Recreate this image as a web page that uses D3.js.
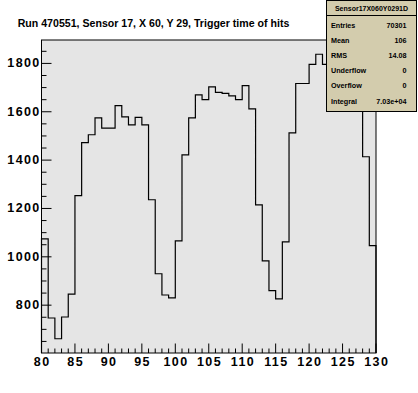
<!DOCTYPE html>
<html>
<head>
  <meta charset="utf-8">
  <title>Trigger time of hits</title>
  <script src="https://d3js.org/d3.v7.min.js"></script>
  <style>
    body { margin: 0; background: #fff; }
    svg text { font-family: "Liberation Sans", Arial, sans-serif; font-weight: bold; fill: #000; }
  </style>
</head>
<body>
  <svg width="418" height="393"></svg>
  <script>
    // histogram description
    var title = "Run 470551, Sensor 17, X 60, Y 29, Trigger time of hits";
    var xMin = 80, xMax = 130, binWidth = 1;
    // bin contents, bins 80..129
    var counts = [
      1074, 747, 661, 751, 846, 1253, 1472, 1505, 1575, 1532,
      1532, 1625, 1579, 1546, 1577, 1546, 1236, 930, 842, 830,
      1066, 1422, 1575, 1670, 1650, 1703, 1680, 1676, 1666, 1650,
      1708, 1612, 1215, 983, 860, 826, 1062, 1513, 1717, 1717,
      1796, 1838, 1796, 1820, 1810, 1790, 1770, 1690, 1414, 1046
    ];
    var xTickLabels = [80, 85, 90, 95, 100, 105, 110, 115, 120, 125, 130];
    var yTickLabels = [800, 1000, 1200, 1400, 1600, 1800];

    // stats box
    var statName = "Sensor17X060Y0291D";
    var statLabels = ["Entries", "Mean", "RMS", "Underflow", "Overflow", "Integral"];
    var statValues = ["70301", "106", "14.08", "0", "0", "7.03e+04"];

    var svg = d3.select("svg");
    var frame = { left: 41.5, right: 376, top: 40, bottom: 353 };

    var x = d3.scaleLinear().domain([xMin, xMax]).range([frame.left, frame.right]);
    // ROOT style: 5% margin above and below the data range
    var lo = d3.min(counts), hi = d3.max(counts), pad = 0.05 * (hi - lo);
    var y = d3.scaleLinear().domain([lo - pad, hi + pad]).range([frame.bottom, frame.top]);

    // frame
    svg.append("rect")
      .attr("x", frame.left).attr("y", frame.top)
      .attr("width", frame.right - frame.left).attr("height", frame.bottom - frame.top)
      .attr("fill", "#e5e5e5");

    // histogram as a step line
    var pts = counts.map(function (c, i) { return [xMin + i * binWidth, c]; });
    pts.unshift([xMin, y.domain()[0]]);
    pts.push([xMax, counts[counts.length - 1]]);
    pts.push([xMax, y.domain()[0]]);
    var line = d3.line()
      .x(function (d) { return x(d[0]); })
      .y(function (d) { return y(d[1]); })
      .curve(d3.curveStepAfter);
    svg.append("path")
      .datum(pts)
      .attr("d", line)
      .attr("fill", "none")
      .attr("stroke", "#000")
      .attr("stroke-width", 1.2);

    // axes, ticks pointing into the frame
    var ls = 1.4;
    var yMinor = d3.range(650, y.domain()[1], 50).filter(function (v) { return v % 200 !== 0; });
    var xMinor = d3.range(xMin, xMax + 1, 1).filter(function (v) { return v % 5 !== 0; });

    var gy = svg.append("g").attr("transform", "translate(" + frame.left + ",0)");
    gy.call(d3.axisLeft(y).tickValues(yTickLabels).tickFormat(d3.format("d"))
      .tickSizeInner(-10).tickSizeOuter(0).tickPadding(2.2).offset(0));
    gy.append("g").call(d3.axisLeft(y).tickValues(yMinor).tickFormat("")
      .tickSizeInner(-5).tickSizeOuter(0).offset(0));

    var gx = svg.append("g").attr("transform", "translate(0," + frame.bottom + ")");
    gx.call(d3.axisBottom(x).tickValues(xTickLabels).tickFormat(d3.format("d"))
      .tickSizeInner(-9.5).tickSizeOuter(0).tickPadding(4.3).offset(0));
    gx.append("g").call(d3.axisBottom(x).tickValues(xMinor).tickFormat("")
      .tickSizeInner(-4.5).tickSizeOuter(0).offset(0));

    svg.selectAll(".domain").remove();
    svg.selectAll(".tick line").attr("stroke", "#000").attr("stroke-width", 1);
    svg.selectAll(".tick text")
      .attr("fill", "#000")
      .style("font-family", "'Liberation Sans', Arial, sans-serif")
      .style("font-weight", "bold")
      .style("font-size", "12.5px")
      .style("letter-spacing", ls + "px");
    gy.selectAll(".tick text").attr("dx", ls);
    gx.selectAll(".tick text").attr("dx", ls / 2);

    // frame border
    svg.append("rect")
      .attr("x", frame.left).attr("y", frame.top)
      .attr("width", frame.right - frame.left).attr("height", frame.bottom - frame.top)
      .attr("fill", "none").attr("stroke", "#000").attr("stroke-width", 1);

    // title
    svg.append("text")
      .attr("x", 17.7).attr("y", 26.6)
      .style("font-size", "10.6px")
      .text(title);

    // stats box
    var box = svg.append("g").attr("transform", "translate(326.5,0.5)");
    box.append("rect")
      .attr("width", 90).attr("height", 111)
      .attr("fill", "#d3ccad").attr("stroke", "#000").attr("stroke-width", 1);
    box.append("line")
      .attr("x1", 0).attr("x2", 90).attr("y1", 15).attr("y2", 15)
      .attr("stroke", "#000").attr("stroke-width", 1);
    box.append("text")
      .attr("x", 45).attr("y", 10.5)
      .attr("text-anchor", "middle")
      .style("font-size", "7px")
      .text(statName);
    statLabels.forEach(function (lab, i) {
      box.append("text")
        .attr("x", 4.5).attr("y", 27.5 + i * 15.1)
        .style("font-size", "7.2px")
        .text(lab);
      box.append("text")
        .attr("x", 80).attr("y", 27.5 + i * 15.1)
        .attr("text-anchor", "end")
        .style("font-size", "7.2px")
        .text(statValues[i]);
    });
  </script>
</body>
</html>
